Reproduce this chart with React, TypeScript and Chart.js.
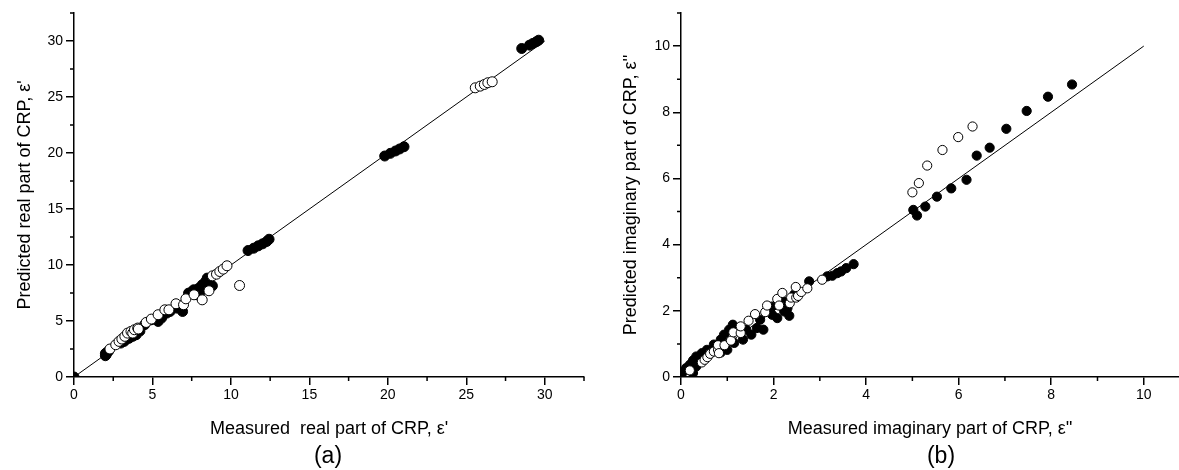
import React, { useEffect, useRef } from "react";
import { Chart, registerables } from "chart.js";
Chart.register(...registerables);

const FONT = "'Liberation Sans', Arial, Helvetica, sans-serif";

// ---------- Panel (a): real part ----------
const A_FILLED_X = [0, 2.0, 2.1, 2.0, 2.2, 2.05, 2.98, 3.2, 3.5, 3.74, 3.96, 4.2, 4.5, 4.93, 5.36, 5.58, 5.9, 6.12, 6.55, 6.92, 7.3, 7.5, 7.63, 7.85, 7.95, 8.1, 8.17, 8.39, 8.49, 8.6, 8.82, 8.3, 11.09, 11.45, 11.74, 12.02, 12.28, 12.43, 19.8, 20.16, 20.49, 20.75, 21.03, 28.53, 29.03, 29.24, 29.46, 29.61];
const A_FILLED_Y = [0, 1.9, 2.2, 2.1, 2.3, 2.0, 3.03, 3.18, 3.45, 3.63, 3.77, 4.1, 4.67, 5.11, 4.96, 5.26, 5.7, 5.85, 6.15, 5.85, 7.49, 7.6, 7.79, 7.34, 7.93, 7.7, 8.23, 8.53, 8.83, 8.08, 8.14, 8.0, 11.29, 11.5, 11.71, 11.89, 12.1, 12.3, 19.73, 19.97, 20.18, 20.36, 20.56, 29.33, 29.63, 29.78, 29.93, 30.07];
const A_OPEN_X = [2.29, 2.66, 2.87, 3.05, 3.24, 3.41, 3.63, 3.74, 3.85, 4.06, 4.1, 4.6, 4.93, 5.36, 5.79, 6.05, 6.5, 6.98, 7.13, 7.65, 8.17, 8.6, 8.82, 9.08, 9.29, 9.51, 9.75, 10.55, 25.57, 25.89, 26.15, 26.37, 26.65];
const A_OPEN_Y = [2.5, 2.88, 3.18, 3.39, 3.63, 3.92, 4.07, 3.92, 4.22, 4.37, 4.28, 4.87, 5.17, 5.56, 6.0, 6.0, 6.54, 6.45, 6.98, 7.34, 6.89, 7.7, 9.03, 9.18, 9.42, 9.63, 9.93, 8.17, 25.82, 25.97, 26.12, 26.27, 26.36];
const A_LINE = [0, 30];
const A_MAX = 32.5;
const A_STEP = 5;
const A_MINOR = [2.5, 7.5, 12.5, 17.5, 22.5, 27.5, 32.5];
const A_X_TITLE = "Measured  real part of CRP, ε'";
const A_Y_TITLE = "Predicted real part of CRP, ε'";

// ---------- Panel (b): imaginary part ----------
const B_FILLED_X = [0.04, 0.11, 0.19, 0.22, 0.26, 0.26, 0.33, 0.33, 0.45, 0.56, 0.71, 0.86, 0.93, 1.04, 1.12, 0.86, 1.0, 1.15, 1.34, 1.41, 1.52, 1.64, 1.71, 1.78, 1.97, 1.97, 2.08, 2.2, 2.23, 2.3, 2.34, 2.45, 2.77, 3.16, 3.27, 3.38, 3.46, 3.57, 3.73, 5.02, 5.1, 5.28, 5.53, 5.84, 6.17, 6.39, 6.67, 7.03, 7.47, 7.93, 8.45];
const B_FILLED_Y = [0.14, 0.27, 0.37, 0.22, 0.5, 0.12, 0.62, 0.32, 0.72, 0.82, 0.98, 1.13, 1.28, 1.43, 1.58, 0.74, 0.82, 1.03, 1.13, 1.43, 1.28, 1.48, 1.73, 1.43, 1.88, 2.13, 1.78, 2.3, 1.98, 2.08, 1.85, 2.5, 2.89, 3.04, 3.06, 3.14, 3.19, 3.29, 3.41, 5.05, 4.88, 5.15, 5.45, 5.7, 5.96, 6.69, 6.93, 7.5, 8.04, 8.47, 8.84];
const B_OPEN_X = [0.19, 0.45, 0.51, 0.57, 0.63, 0.71, 0.8, 0.8, 0.82, 0.94, 1.08, 1.13, 1.29, 1.29, 1.46, 1.6, 1.82, 1.86, 2.08, 2.12, 2.19, 2.35, 2.38, 2.49, 2.53, 2.6, 2.48, 2.73, 3.05, 5.0, 5.14, 5.32, 5.65, 5.99, 6.3];
const B_OPEN_Y = [0.2, 0.44, 0.52, 0.6, 0.7, 0.77, 0.82, 0.96, 0.72, 0.96, 1.1, 1.35, 1.33, 1.53, 1.7, 1.9, 1.96, 2.16, 2.36, 2.16, 2.54, 2.23, 2.4, 2.4, 2.45, 2.57, 2.72, 2.68, 2.94, 5.58, 5.86, 6.39, 6.86, 7.25, 7.57];
const B_LINE = [0, 10];
const B_X_MAX = 10.77;
const B_Y_MAX = 11;
const B_STEP = 2;
const B_MINOR_X = [1, 3, 5, 7, 9];
const B_MINOR_Y = [1, 3, 5, 7, 9, 11];
const B_X_TITLE = "Measured imaginary part of CRP, ε''";
const B_Y_TITLE = "Predicted imaginary part of CRP, ε''";

const zip = (xs: number[], ys: number[]) => xs.map((x, i) => ({ x, y: ys[i] }));

const minorTicksPlugin = {
  id: "minorTicks",
  afterDraw(chart: any, _args: any, opts: any) {
    const ctx = chart.ctx;
    const xs = chart.scales.x;
    const ys = chart.scales.y;
    ctx.save();
    ctx.strokeStyle = "#000";
    ctx.lineWidth = 1.5;
    ctx.beginPath();
    (opts.x || []).forEach((v: number) => {
      const px = xs.getPixelForValue(v);
      ctx.moveTo(px, xs.top);
      ctx.lineTo(px, xs.top + 4);
    });
    (opts.y || []).forEach((v: number) => {
      const py = ys.getPixelForValue(v);
      ctx.moveTo(ys.right, py);
      ctx.lineTo(ys.right - 4, py);
    });
    ctx.stroke();
    ctx.restore();
  },
};

function makeConfig(p: any) {
  const axisCommon = {
    type: "linear",
    min: 0,
    border: { display: true, color: "#000", width: 1.5 },
    grid: { drawOnChartArea: false, drawTicks: true, tickLength: 8, color: "#000", lineWidth: 1.5 },
  };
  return {
    type: "scatter",
    data: {
      datasets: [
        {
          data: zip(p.openX, p.openY),
          backgroundColor: "#fff",
          borderColor: "#000",
          borderWidth: 1,
          pointRadius: p.radius,
        },
        {
          data: zip(p.filledX, p.filledY),
          backgroundColor: "#000",
          borderColor: "#000",
          borderWidth: 1,
          pointRadius: p.radius,
        },
        {
          data: zip(p.line, p.line),
          showLine: true,
          borderColor: "#000",
          borderWidth: 1,
          pointRadius: 0,
          fill: false,
        },
      ],
    },
    options: {
      animation: false,
      responsive: false,
      maintainAspectRatio: false,
      layout: { padding: { top: 13, right: p.padRight, left: 0, bottom: 0 } },
      plugins: {
        legend: { display: false },
        tooltip: { enabled: false },
        minorTicks: { x: p.minorX, y: p.minorY },
      },
      scales: {
        x: {
          ...axisCommon,
          max: p.xMax,
          ticks: { stepSize: p.step, includeBounds: false, color: "#000", padding: 2, maxRotation: 0, font: { family: FONT, size: 14 } },
          title: { display: true, text: p.xTitle, color: "#000", font: { family: FONT, size: 18 }, padding: { top: 0, bottom: 30 } },
          afterFit: (s: any) => { s.height = 93; },
        },
        y: {
          ...axisCommon,
          max: p.yMax,
          ticks: { stepSize: p.step, includeBounds: false, color: "#000", padding: 3, font: { family: FONT, size: 14 } },
          title: { display: true, text: p.yTitle, color: "#000", font: { family: FONT, size: 18 }, padding: { top: p.yTitlePad, bottom: 0 } },
          afterFit: (s: any) => { s.width = p.yWidth; },
        },
      },
    },
    plugins: [minorTicksPlugin],
  };
}

function Panel(props: { cfg: any; left: number; width: number }) {
  const ref = useRef<HTMLCanvasElement>(null);
  useEffect(() => {
    const chart = new Chart(ref.current as HTMLCanvasElement, props.cfg);
    return () => chart.destroy();
  }, []);
  return (
    <canvas
      ref={ref}
      width={props.width}
      height={470}
      style={{ position: "absolute", left: props.left, top: 0, width: props.width, height: 470 }}
    />
  );
}

const cfgA = makeConfig({
  openX: A_OPEN_X, openY: A_OPEN_Y, filledX: A_FILLED_X, filledY: A_FILLED_Y, line: A_LINE,
  xMax: A_MAX, yMax: A_MAX, step: A_STEP, minorX: A_MINOR, minorY: A_MINOR,
  xTitle: A_X_TITLE, yTitle: A_Y_TITLE, yWidth: 74, padRight: 4, yTitlePad: 14, radius: 5,
});
const cfgB = makeConfig({
  openX: B_OPEN_X, openY: B_OPEN_Y, filledX: B_FILLED_X, filledY: B_FILLED_Y, line: B_LINE,
  xMax: B_X_MAX, yMax: B_Y_MAX, step: B_STEP, minorX: B_MINOR_X, minorY: B_MINOR_Y,
  xTitle: B_X_TITLE, yTitle: B_Y_TITLE, yWidth: 91, padRight: 0, yTitlePad: 30, radius: 4.6,
});

export default function App() {
  const label = (text: string, cx: number) => (
    <div
      style={{
        position: "absolute", left: cx - 40, width: 80, top: 441, height: 28, lineHeight: "28px",
        textAlign: "center", fontFamily: FONT, fontSize: 23, color: "#000",
      }}
    >
      {text}
    </div>
  );
  return (
    <div style={{ position: "absolute", left: 0, top: 0, width: 1179, height: 470, background: "#fff", overflow: "hidden" }}>
      <Panel cfg={cfgA} left={0} width={590} />
      <Panel cfg={cfgB} left={590} width={595} />
      {label("(a)", 328)}
      {label("(b)", 941)}
    </div>
  );
}
